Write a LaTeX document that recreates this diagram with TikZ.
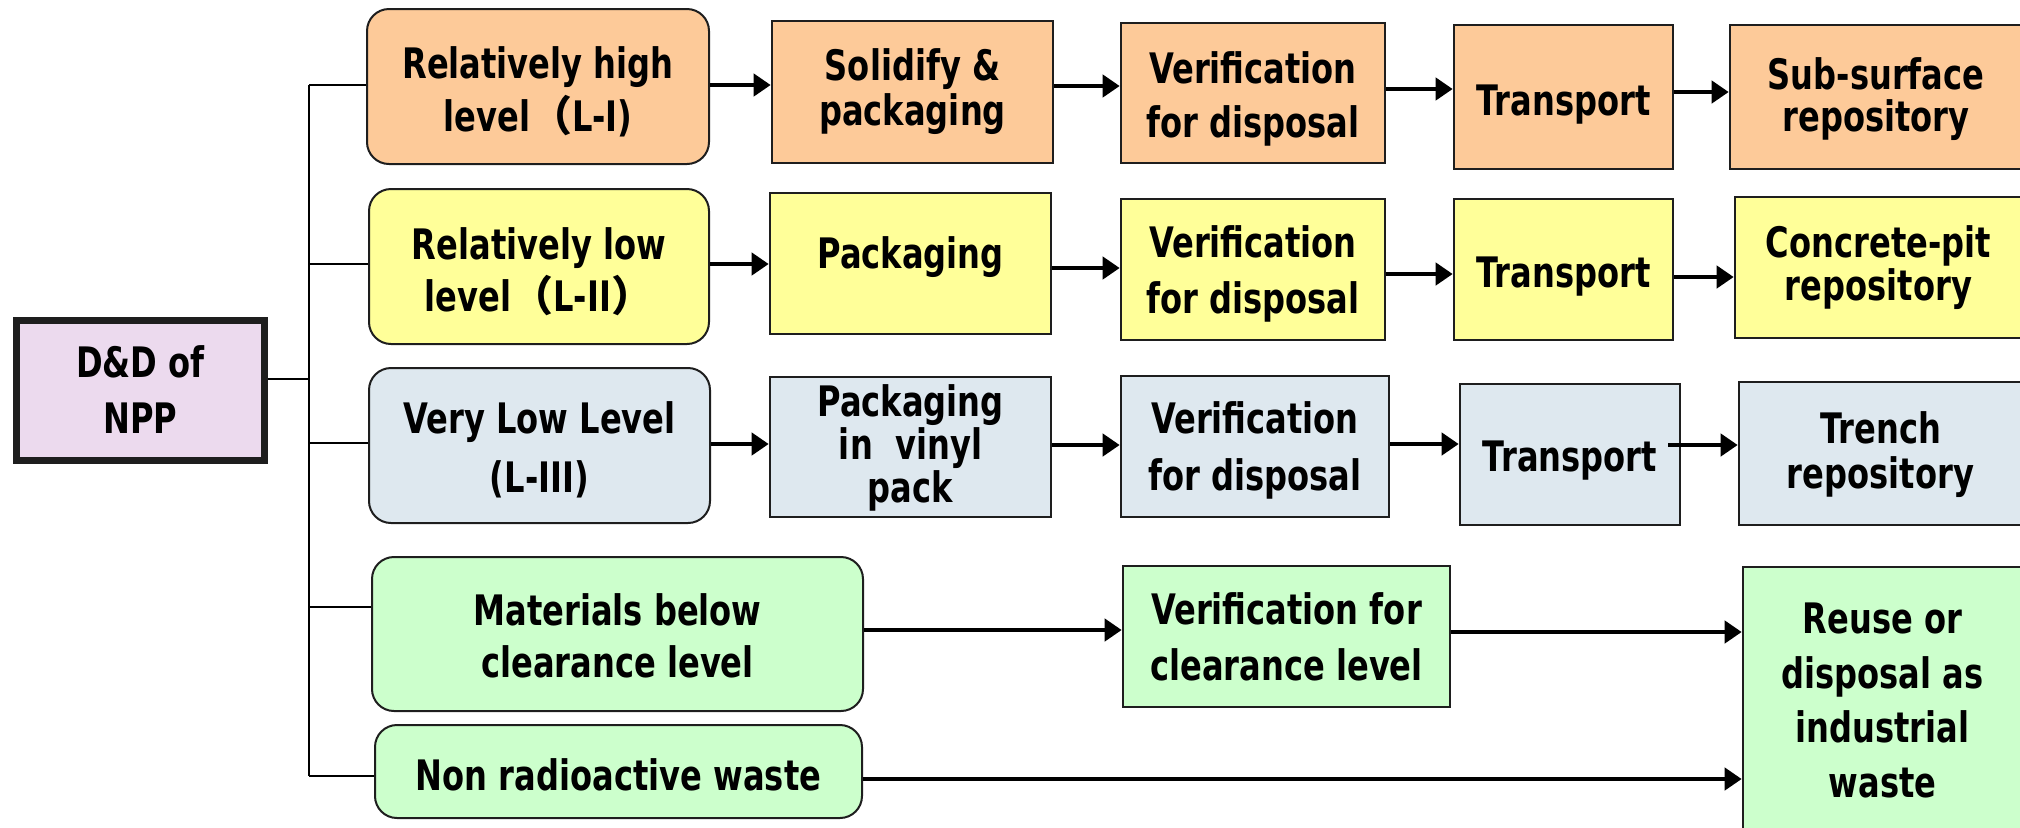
\documentclass[tikz,border=0pt]{standalone}
\usepackage{fontspec}
\setmainfont{DejaVu Sans}[FakeStretch=0.765]
\newfontfamily\cjkfont{Noto Sans CJK SC}
\usetikzlibrary{arrows.meta}
\definecolor{corange}{RGB}{253,202,153}
\definecolor{cyellow}{RGB}{255,255,153}
\definecolor{cblue}{RGB}{222,232,239}
\definecolor{cgreen}{RGB}{204,255,204}
\definecolor{clav}{RGB}{236,218,238}
\definecolor{cline}{RGB}{30,30,30}
\newcommand\fwl{{\cjkfont （}}
\newcommand\fwr{{\cjkfont ）}}
\begin{document}
\begin{tikzpicture}[x=0.5pt,y=-0.5pt,
  box/.style={draw=cline, line width=1.3pt, inner sep=0pt, align=center,
              font=\fontsize{21pt}{27pt}\selectfont\bfseries},
  rbox/.style={box, line width=1pt, rounded corners=11pt},
  bs/.style={font=\fontsize{21pt}{#1pt}\selectfont\bfseries},
  sz/.style n args={2}{minimum width=#1pt, minimum height=#2pt},
  hd/.style n args={2}{text height=#1pt, text depth=#2pt},
  arr/.style={line width=2.1pt, -{Triangle[length=8.5pt,width=11pt]}},
  tree/.style={line width=1.2pt}]
\useasboundingbox (0,0) rectangle (2020,827);
% root
\node[box, line width=3.5pt, fill=clav, sz={124}{69.75}, bs=28, hd={42.75}{0}]
  (DD) at (140.5,390.25) {D\&D of\\NPP};
% row 1
\node[rbox, fill=corange, sz={171}{77.5}, bs=26.5, hd={45}{0}] (A1) at (538,86.5) {Relatively high\\level\fwl L-I)};
\node[box, fill=corange, sz={140.5}{71}, bs=22.5, hd={33}{0}] (B1) at (912.5,92) {Solidify \&\\packaging};
\node[box, fill=corange, sz={132}{70}, bs=27, hd={44}{0}] (C1) at (1253,93) {Verification\\for disposal};
\node[box, fill=corange, sz={109.5}{72}, hd={28}{10}] (D1) at (1563.5,97) {Transport};
\node[box, fill=corange, sz={146}{72}, bs=21, hd={34}{0}] (E1) at (1876,97) {Sub-surface\\repository};
% row 2
\node[rbox, fill=cyellow, sz={170}{77.5}, bs=26, hd={45}{0}] (A2) at (539,266.5) {Relatively low\\level\fwl L-II\fwr};
\node[box, fill=cyellow, sz={140.5}{70.5}, hd={14.5}{10}] (B2) at (910.5,263.5) {Packaging};
\node[box, fill=cyellow, sz={132}{70.5}, bs=28, hd={43.5}{0}] (C2) at (1253,269.5) {Verification\\for disposal};
\node[box, fill=cyellow, sz={109.5}{70.5}, hd={27.5}{10}] (D2) at (1563.5,269.5) {Transport};
\node[box, fill=cyellow, sz={143.5}{70.5}, bs=21.5, hd={32.5}{0}] (E2) at (1878.5,267.5) {Concrete-pit\\repository};
% row 3
\node[rbox, fill=cblue, sz={170.5}{77.5}, bs=29.5, hd={46.5}{0}] (A3) at (539.5,445.5) {Very Low Level\\(L-III)};
\node[box, fill=cblue, sz={140.5}{70}, bs=19.5, hd={55.5}{0}] (B3) at (910.5,447) {Packaging\\in\ \ vinyl\\pack};
\node[box, fill=cblue, sz={134}{70.5}, bs=28.5, hd={43.5}{0}] (C3) at (1255,446.5) {Verification\\for disposal};
\node[box, fill=cblue, sz={110}{70.5}, hd={26.5}{10}] (D3) at (1570,454.5) {Transport};
\node[box, fill=cblue, sz={141.5}{71.5}, bs=22.5, hd={34.5}{0}] (E3) at (1880.5,453.5) {Trench\\repository};
% rows 4-5
\node[rbox, fill=cgreen, sz={245.5}{77}, bs=26, hd={43}{0}] (A4) at (617.5,634) {Materials below\\clearance level};
\node[box, fill=cgreen, sz={163.5}{70.5}, bs=28, hd={43.5}{0}] (C4) at (1286.5,636.5) {Verification for\\clearance level};
\node[box, fill=cgreen, sz={139.5}{134}, bs=27.3, hd={96.5}{0}] (E4) at (1882.5,701) {Reuse or\\disposal as\\industrial\\waste};
\node[rbox, fill=cgreen, sz={243.5}{46.5}, hd={28.5}{10}] (A5) at (618.5,771.5) {Non radioactive waste};
% tree
\coordinate (tt) at (309,85);
\coordinate (tb) at (309,776);
\draw[tree] (tt) -- (tb);
\draw[tree] (DD.east |- 0,379) -- (tt |- 0,379);
\draw[tree] (tt) -- (A1.west |- tt);
\draw[tree] (tt |- 0,264) -- (A2.west |- 0,264);
\draw[tree] (tt |- 0,443) -- (A3.west |- 0,443);
\draw[tree] (tt |- 0,607) -- (A4.west |- 0,607);
\draw[tree] (tb) -- (A5.west |- tb);
% arrows row 1
\draw[arr] (A1.east |- 0,85) -- (B1.west |- 0,85);
\draw[arr] (B1.east |- 0,86) -- (C1.west |- 0,86);
\draw[arr] (C1.east |- 0,89) -- (D1.west |- 0,89);
\draw[arr] (D1.east |- 0,92) -- (E1.west |- 0,92);
% arrows row 2
\draw[arr] (A2.east |- 0,264) -- (B2.west |- 0,264);
\draw[arr] (B2.east |- 0,268) -- (C2.west |- 0,268);
\draw[arr] (C2.east |- 0,274) -- (D2.west |- 0,274);
\draw[arr] (D2.east |- 0,277) -- (E2.west |- 0,277);
% arrows row 3
\draw[arr] (A3.east |- 0,444) -- (B3.west |- 0,444);
\draw[arr] (B3.east |- 0,445) -- (C3.west |- 0,445);
\draw[arr] (C3.east |- 0,444) -- (D3.west |- 0,444);
\draw[arr] ([xshift=-6.5pt]D3.east |- 0,445) -- (E3.west |- 0,445);
% arrows rows 4-5
\draw[arr] (A4.east |- 0,630) -- (C4.west |- 0,630);
\draw[arr] (C4.east |- 0,632) -- (E4.west |- 0,632);
\draw[arr] (A5.east |- 0,779) -- (E4.west |- 0,779);
\end{tikzpicture}
\end{document}
